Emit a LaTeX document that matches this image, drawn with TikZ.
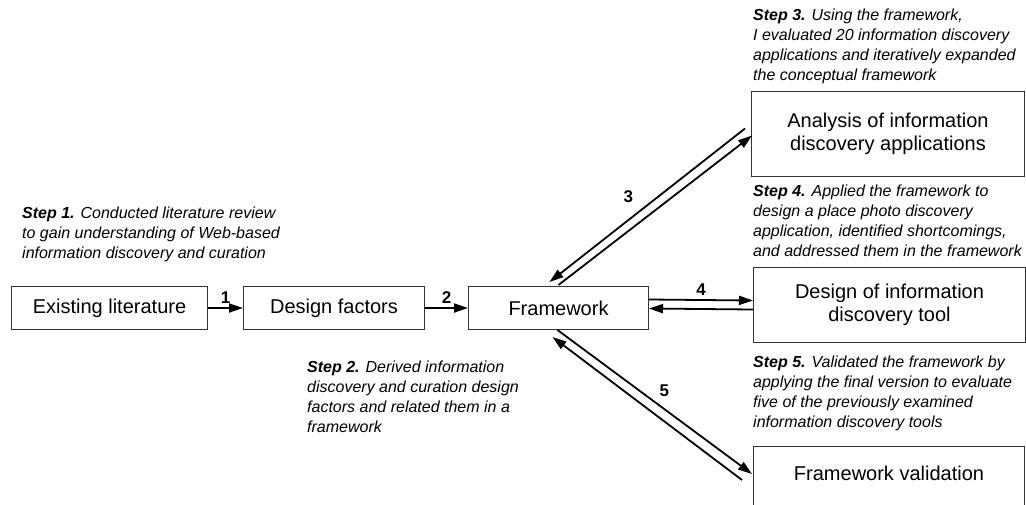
\documentclass[tikz,border=0pt]{standalone}
\usepackage{fontspec}
\setmainfont{Liberation Sans}
\usetikzlibrary{positioning, arrows.meta, calc}

\begin{document}
\begin{tikzpicture}[x=1pt, y=-1pt,
  box/.style={draw=black!80, line width=1pt, inner sep=0pt, align=center,
    font=\fontsize{20}{23}\selectfont},
  stepnote/.style={anchor=north west, inner sep=0pt, align=left,
    font=\fontsize{16}{20}\selectfont\itshape},
  flow/.style={line width=1.8pt, -{Triangle[length=14pt, width=9pt]}},
  num/.style={font=\fontsize{17}{17}\selectfont\bfseries}]
  \path[use as bounding box] (0,0) rectangle (1026,504);
  \clip (0,0) rectangle (1026,504);

  % main chain
  \node[box, minimum width=196pt, minimum height=43pt, anchor=north west] (lit) at (11,286) {Existing literature};
  \node[box, minimum width=181pt, minimum height=43pt, right=35pt of lit] (des) {Design factors};
  \node[box, minimum width=180pt, minimum height=43pt, right=43pt of des] (fw) {Framework};

  % right column
  \node[box, minimum width=273pt, minimum height=85pt, anchor=north west] (ana) at (751,91) {Analysis of information\\discovery applications};
  \node[box, minimum width=272pt, minimum height=75pt, anchor=north west] (tool) at (753,267) {Design of information\\discovery tool};
  \node[box, minimum width=271pt, text height=34pt, text depth=40pt, anchor=north west] (val) at (753,446) {Framework validation};

  % step notes
  \node[stepnote] (s1) at (22,207) {\textbf{Step 1.} Conducted literature review\\to gain understanding of Web-based\\information discovery and curation};
  \node[stepnote] (s2) at (307,361) {\textbf{Step 2.} Derived information\\discovery and curation design\\factors and related them in a\\framework};
  \node[stepnote] (s3) at (753,9) {\textbf{Step 3.} Using the framework,\\I evaluated 20 information discovery\\applications and iteratively expanded\\the conceptual framework};
  \node[stepnote] (s4) at (753,185) {\textbf{Step 4.} Applied the framework to\\design a place photo discovery\\application, identified shortcomings,\\and addressed them in the framework};
  \node[stepnote] (s5) at (753,356) {\textbf{Step 5.} Validated the framework by\\applying the final version to evaluate\\five of the previously examined\\information discovery tools};

  % connectors
  \draw[flow] (lit) -- node[num, above] {1} (des);
  \draw[flow] (des) -- node[num, above] {2} (fw);

  \draw[flow] ($(ana.west)+(-6,-5.5)$) -- node[num, xshift=-19pt, yshift=8.5pt] {3} ($(fw.north)+(-9,-4)$);
  \draw[flow] ($(fw.north)+(0,-1)$) -- ($(ana.west)+(1,1.5)$);

  \draw[flow] ($(fw.east)+(0,-8.5)$) -- node[num, above] {4} ($(tool.west)+(0,-4.5)$);
  \draw[flow] ($(tool.west)+(0,4.5)$) -- ($(fw.east)+(0,0.5)$);

  \draw[flow] ($(fw.south)+(-1,0)$) -- node[num, xshift=9.5pt, yshift=11pt] {5} ($(val.north west)+(-1,28)$);
  \draw[flow] ($(val.north west)+(-11,34)$) -- ($(fw.south)+(-6,7)$);
\end{tikzpicture}
\end{document}
